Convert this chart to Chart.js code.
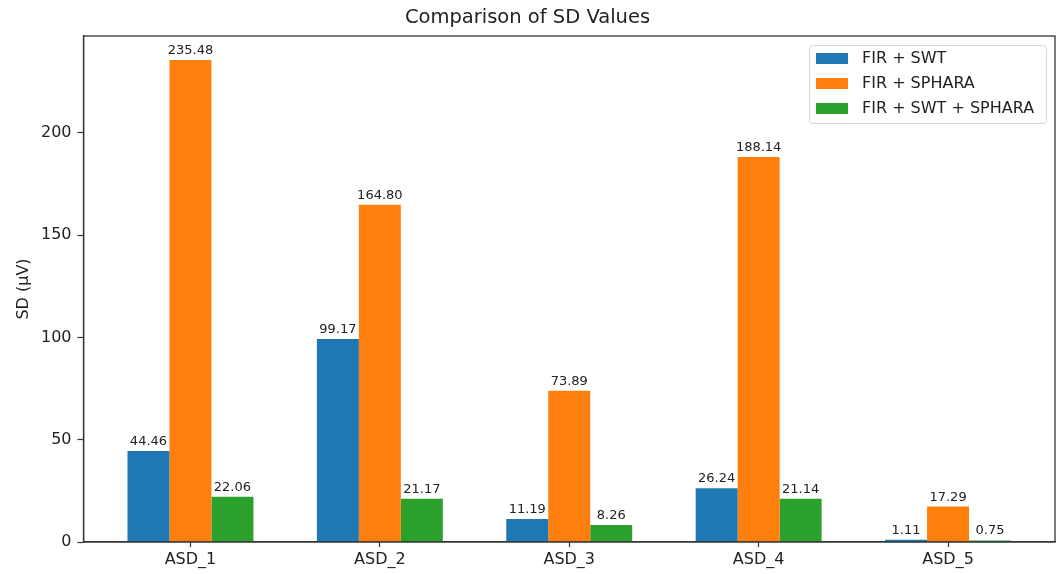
<!DOCTYPE html>
<html>
<head>
<meta charset="utf-8">
<script src="https://cdn.jsdelivr.net/npm/chart.js@4.4.1/dist/chart.umd.min.js"></script>
<style>
  html, body { margin: 0; padding: 0; background: #fff; }
  #wrap { width: 1061px; height: 574px; }
</style>
</head>
<body>
<div id="wrap"><canvas id="c" width="1061" height="574"></canvas></div>
<script>
const categories = ["ASD_1", "ASD_2", "ASD_3", "ASD_4", "ASD_5"];
const seriesNames = ["FIR + SWT", "FIR + SPHARA", "FIR + SWT + SPHARA"];
const firSwt = [44.46, 99.17, 11.19, 26.24, 1.11];
const firSphara = [235.48, 164.80, 73.89, 188.14, 17.29];
const firSwtSphara = [22.06, 21.17, 8.26, 21.14, 0.75];
const seriesColors = ["#1f77b4", "#ff7f0e", "#2ca02c"];
const yTicks = [0, 50, 100, 150, 200];

const FONT = "'DejaVu Sans', 'Liberation Sans', sans-serif";
const TEXT = "#222222";
const AXIS = "#333333";

const allSeries = [firSwt, firSphara, firSwtSphara];
const datasets = allSeries.map((vals, k) => ({
  label: seriesNames[k],
  data: vals.map((v, i) => ({ x: i, y: v })),
  backgroundColor: seriesColors[k],
  borderWidth: 0,
  categoryPercentage: 0.665,
  barPercentage: 1.0
}));

const framePlugin = {
  id: 'frame',
  afterDatasetsDraw(chart) {
    const { ctx, chartArea: a } = chart;
    ctx.save();
    // value labels
    ctx.font = "13px " + FONT;
    ctx.fillStyle = TEXT;
    ctx.textAlign = 'center';
    ctx.textBaseline = 'alphabetic';
    chart.data.datasets.forEach((ds, di) => {
      const meta = chart.getDatasetMeta(di);
      meta.data.forEach((bar, i) => {
        const v = ds.data[i].y;
        ctx.fillText(v.toFixed(2), bar.x, bar.y - 6);
      });
    });
    // frame
    ctx.strokeStyle = AXIS;
    ctx.lineWidth = 1.3;
    ctx.strokeRect(a.left, a.top, a.right - a.left, a.bottom - a.top);
    ctx.restore();
  }
};

const legendPlugin = {
  id: 'boxLegend',
  afterDraw(chart) {
    const { ctx } = chart;
    const x0 = 809.5, y0 = 45.5, w = 237, h = 78;
    ctx.save();
    ctx.beginPath();
    const r = 3;
    ctx.moveTo(x0 + r, y0);
    ctx.lineTo(x0 + w - r, y0);
    ctx.quadraticCurveTo(x0 + w, y0, x0 + w, y0 + r);
    ctx.lineTo(x0 + w, y0 + h - r);
    ctx.quadraticCurveTo(x0 + w, y0 + h, x0 + w - r, y0 + h);
    ctx.lineTo(x0 + r, y0 + h);
    ctx.quadraticCurveTo(x0, y0 + h, x0, y0 + h - r);
    ctx.lineTo(x0, y0 + r);
    ctx.quadraticCurveTo(x0, y0, x0 + r, y0);
    ctx.closePath();
    ctx.fillStyle = 'rgba(255,255,255,0.8)';
    ctx.fill();
    ctx.strokeStyle = '#d6d6d6';
    ctx.lineWidth = 1;
    ctx.stroke();
    ctx.font = "16px " + FONT;
    ctx.textAlign = 'left';
    ctx.textBaseline = 'middle';
    chart.data.datasets.forEach((ds, i) => {
      const cy = 58.5 + i * 25;
      ctx.fillStyle = ds.backgroundColor;
      ctx.fillRect(816, cy - 5.5, 32, 11);
      ctx.fillStyle = TEXT;
      ctx.fillText(ds.label, 862, cy + 0.5);
    });
    ctx.restore();
  }
};

new Chart(document.getElementById('c'), {
  type: 'bar',
  data: { datasets },
  plugins: [framePlugin, legendPlugin],
  options: {
    responsive: false,
    animation: false,
    layout: { padding: { left: 0, right: 6, top: 0, bottom: 0 } },
    plugins: {
      legend: { display: false },
      tooltip: { enabled: false },
      title: {
        display: true,
        text: 'Comparison of SD Values',
        color: TEXT,
        font: { family: FONT, size: 19.5, weight: 'normal' },
        padding: { top: 6, bottom: 6.6 }
      }
    },
    scales: {
      x: {
        type: 'linear',
        min: -0.5647,
        max: 4.5647,
        offset: false,
        grid: { display: true, drawOnChartArea: false, offset: false, tickLength: 5, tickColor: AXIS, tickWidth: 1.2 },
        border: { display: true, color: AXIS, width: 1.3 },
        afterBuildTicks: (scale) => { scale.ticks = categories.map((_, i) => ({ value: i })); },
        afterFit: (scale) => { scale.height = 32; },
        ticks: {
          autoSkip: false,
          maxRotation: 0,
          includeBounds: false,
          padding: 3,
          color: TEXT,
          font: { family: FONT, size: 16 },
          callback: (v) => categories[v]
        }
      },
      y: {
        min: 0,
        max: 247.25,
        grid: { display: true, drawOnChartArea: false, tickLength: 6, tickColor: AXIS, tickWidth: 1.2 },
        border: { display: true, color: AXIS, width: 1.3 },
        afterBuildTicks: (scale) => { scale.ticks = yTicks.map(v => ({ value: v })); },
        afterFit: (scale) => { scale.width = 83.5; },
        ticks: {
          includeBounds: false,
          padding: 6,
          color: TEXT,
          font: { family: FONT, size: 16 }
        },
        title: {
          display: true,
          text: 'SD (μV)',
          color: TEXT,
          font: { family: FONT, size: 16 },
          padding: { top: 14, bottom: 4 }
        }
      }
    }
  }
});
</script>
</body>
</html>
